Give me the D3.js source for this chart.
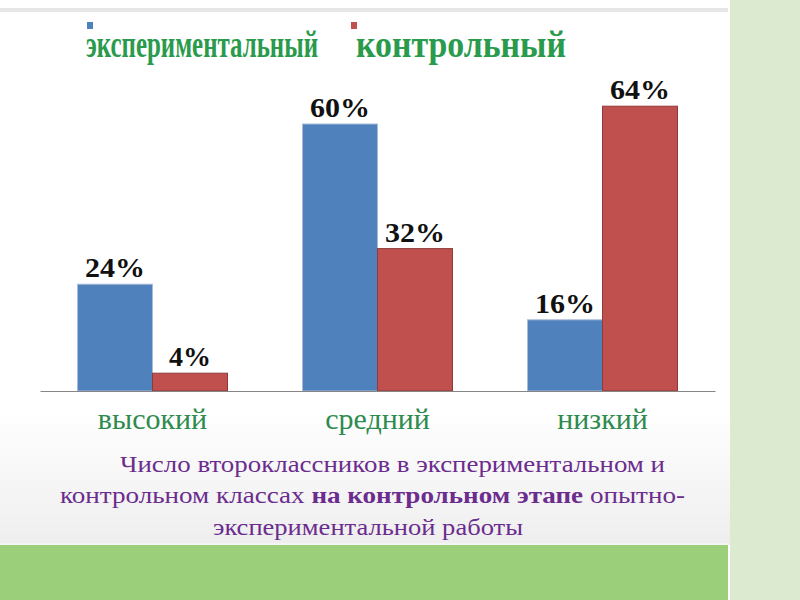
<!DOCTYPE html>
<html><head><meta charset="utf-8">
<script src="https://cdn.jsdelivr.net/npm/d3@7/dist/d3.min.js"></script>
<style>body{margin:0;background:#fff}svg{display:block}
.serif{font-family:"Liberation Serif","DejaVu Serif","Times New Roman",Times,Tinos,"Noto Serif",FreeSerif,serif}</style>
</head><body><svg id="c" width="800" height="600"></svg>
<script>
const categories = ["высокий", "средний", "низкий"];
const seriesNames = ["экспериментальный", "контрольный"];
const experimental = [24, 60, 16];
const control = [4, 32, 64];
const captionLines = [
  [{t:"Число второклассников в экспериментальном и", b:false}],
  [{t:"контрольном классах ", b:false},{t:"на контрольном этапе", b:true},{t:" опытно-", b:false}],
  [{t:"экспериментальной работы", b:false}]
];

const svg = d3.select("#c");
const defs = svg.append("defs");
const g1 = defs.append("linearGradient").attr("id","bg").attr("x1",0).attr("y1",0).attr("x2",0).attr("y2",1);
g1.append("stop").attr("offset","0").attr("stop-color","#ffffff");
g1.append("stop").attr("offset","0.75").attr("stop-color","#ffffff");
g1.append("stop").attr("offset","1").attr("stop-color","#eeeeee");
svg.append("rect").attr("x",0).attr("y",0).attr("width",730).attr("height",545).attr("fill","url(#bg)");
svg.append("rect").attr("x",0).attr("y",8).attr("width",728).attr("height",4).attr("fill","#e6e6e6");
svg.append("rect").attr("x",730).attr("y",0).attr("width",70).attr("height",600).attr("fill","#dcebd0");
svg.append("rect").attr("x",0).attr("y",545).attr("width",728).attr("height",55).attr("fill","#9bcf7a");
svg.append("rect").attr("x",0).attr("y",543).attr("width",728).attr("height",2).attr("fill","#f4f4f4");

const colors = ["#4f81bd", "#c0504d"];
const data = categories.map((c,i)=>({cat:c, vals:[experimental[i], control[i]]}));

const x0 = d3.scaleBand().domain(categories).range([40, 715]).paddingInner(0).paddingOuter(0);
const x1 = d3.scaleBand().domain(seriesNames).range([0, x0.bandwidth()]).paddingOuter(0.5).paddingInner(0);
const y = d3.scaleLinear().domain([0, 100]).range([391, -54]);

const groups = svg.selectAll("g.grp").data(data).enter().append("g")
  .attr("transform", d=>`translate(${x0(d.cat)},0)`);
groups.selectAll("rect").data(d=>d.vals.map((v,j)=>({v, s:seriesNames[j], j})))
  .enter().append("rect")
  .attr("x", d=>x1(d.s)).attr("width", x1.bandwidth())
  .attr("y", d=>y(d.v)).attr("height", d=>y(0)-y(d.v))
  .attr("fill", d=>colors[d.j])
  .attr("stroke", d=> d.j===0 ? "#aabbd6" : "#8e3b39").attr("stroke-width",1);
groups.selectAll("text.val").data(d=>d.vals.map((v,j)=>({v, s:seriesNames[j], j})))
  .enter().append("text").attr("class","serif")
  .attr("x", d=>x1(d.s)+x1.bandwidth()/2 - (String(d.v).length===1?21:30)).attr("y", d=>y(d.v)-7)
  .attr("font-weight","bold")
  .attr("font-size",28).attr("fill","#111")
  .attr("textLength", d=> String(d.v).length===1 ? 42 : 60).attr("lengthAdjust","spacingAndGlyphs")
  .text(d=>d.v+"%");

// axis
const axis = d3.axisBottom(x0).tickSize(0).tickPadding(0);
const ax = svg.append("g").attr("transform","translate(0,391)").call(axis);
ax.attr("font-family", null);
ax.select(".domain").attr("stroke","#868686").attr("stroke-width",1.2);
ax.selectAll(".tick text").attr("class","serif").attr("dy",0).attr("y",38)
  .attr("font-size",30).attr("fill","#2e8b4e");

// legend
const legX = [85, 349];
const legTX = [86, 356];
const legLen = [232, 210];
seriesNames.forEach((n,i)=>{
  svg.append("rect").attr("x",legX[i]+2).attr("y",22).attr("width",6).attr("height",7).attr("fill",colors[i]);
  svg.append("text").attr("class","serif")
    .attr("transform",`translate(${legTX[i]},57) scale(1,1.55)`)
    .attr("font-weight","bold")
    .attr("font-size",24).attr("fill","#2a9a4c")
    .attr("textLength", legLen[i]).attr("lengthAdjust","spacingAndGlyphs")
    .text(n);
});

// caption
const capY = [472, 503, 535];
const capX = [120, 60, 213];
const capLen = [545, 625, 310];
captionLines.forEach((line,i)=>{
  const t = svg.append("text").attr("class","serif").attr("x",capX[i]).attr("y",capY[i])
    .attr("font-size",23).attr("fill","#6b2c8e")
    .attr("textLength", capLen[i]).attr("lengthAdjust","spacingAndGlyphs");
  line.forEach(s=>t.append("tspan").attr("font-weight", s.b?"bold":"normal").text(s.t));
});
</script></body></html>
